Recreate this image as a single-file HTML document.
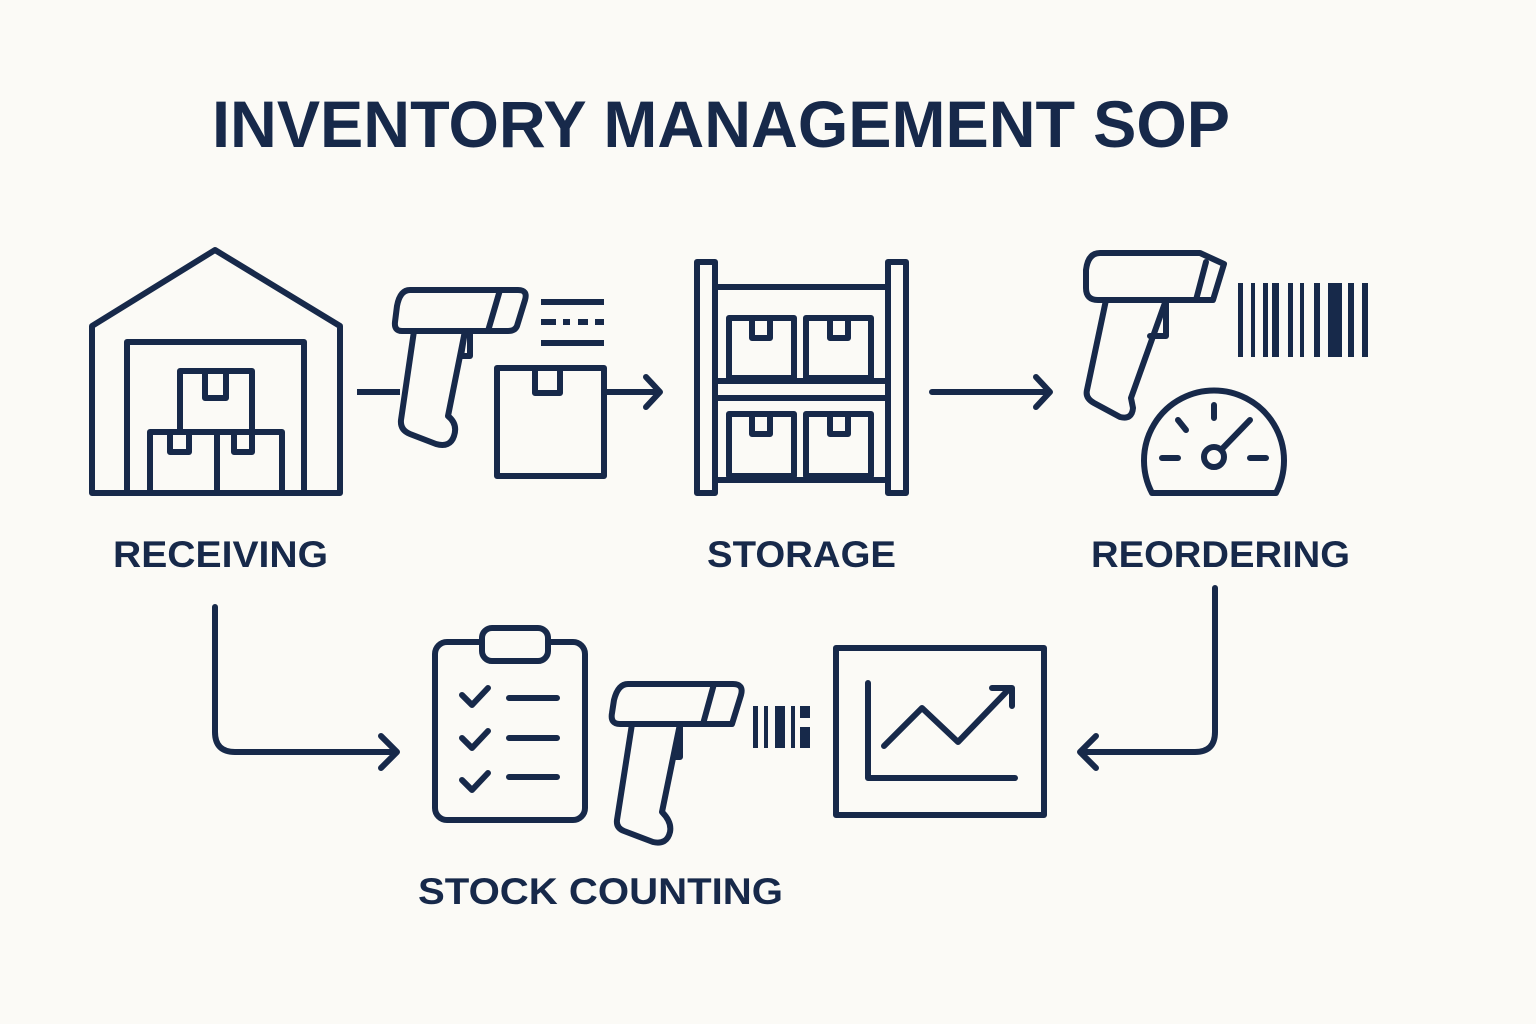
<!DOCTYPE html>
<html><head><meta charset="utf-8"><style>
html,body{margin:0;padding:0;background:#fbfaf6;}
svg{display:block}
text{font-family:"Liberation Sans",sans-serif;font-weight:bold;fill:#17294a}
</style></head><body>
<svg width="1536" height="1024" viewBox="0 0 1536 1024">
<rect width="1536" height="1024" fill="#fbfaf6"/>
<text x="212" y="147" font-size="66" textLength="1018" lengthAdjust="spacingAndGlyphs">INVENTORY MANAGEMENT SOP</text>
<g fill="none" stroke="#17294a" stroke-width="6" stroke-linejoin="round" stroke-linecap="round">
<!-- warehouse -->
<path d="M92 493 V326 L215 250 L340 326 V493 Z"/>
<path d="M127 493 V342 H304 V493"/>
<rect x="180" y="371" width="72" height="61"/>
<path d="M205 371 V398 H226 V371"/>
<rect x="150" y="432" width="67" height="61"/>
<rect x="217" y="432" width="65" height="61"/>
<path d="M170 432 V452 H189 V432 M234 432 V452 H252 V432"/>
<path d="M357 392 H400" stroke-linecap="butt"/>
<!-- scanner 1 -->
<path d="M410 290 H518 Q528 290 525 300 L517 326 Q515 331 508 331 H402 Q394 331 395 322 L397 306 Q400 290 410 290 Z"/>
<path d="M500 290 L488 331"/>
<path d="M414 331 L401 420 Q400 430 410 434 L436 444 Q450 448 454 436 Q458 424 448 416 L465 331"/>
<path d="M465 331 L461 356 H470 V331"/>
<path d="M541 302 H604 M541 343 H604 M541 322 H556 M563 322 H570 M578 322 H588 M595 322 H604" stroke-linecap="butt"/>
<rect x="497" y="368" width="107" height="108"/>
<path d="M535 368 V393 H560 V368"/>
<path d="M604 392 H658 M646 377 L660 392 L646 407"/>
<!-- shelving -->
<rect x="697" y="262" width="18" height="231"/>
<rect x="888" y="262" width="18" height="231"/>
<path d="M715 287 H888 M715 381 H888 M715 398 H888 M715 480 H888"/>
<rect x="729" y="318" width="65" height="60"/>
<rect x="806" y="318" width="65" height="60"/>
<rect x="729" y="414" width="65" height="62"/>
<rect x="806" y="414" width="65" height="62"/>
<path d="M752 318 V338 H770 V318 M830 318 V338 H848 V318 M752 414 V434 H770 V414 M830 414 V434 H848 V414"/>
<path d="M932 392 H1048 M1036 377 L1050 392 L1036 407"/>
<!-- scanner 2 -->
<path d="M1100 253 H1200 L1224 264 L1213 300 H1098 Q1086 300 1086 288 V270 Q1088 253 1100 253 Z"/>
<path d="M1206 262 L1196 300"/>
<path d="M1106 300 L1087 390 Q1085 398 1094 403 L1120 417 Q1132 420 1133 408 L1131 398 L1166 300"/>
<path d="M1166 300 V336 H1150"/>
<path d="M1152 493 A70 70 0 1 1 1276 493 Z"/>
<circle cx="1214" cy="457" r="10"/>
<path d="M1221 450 L1250 420 M1214 405 V418 M1178 420 L1186 430 M1162 458 H1178 M1250 458 H1266"/>
<!-- clipboard -->
<rect x="435" y="642" width="150" height="178" rx="12"/>
<rect x="482" y="628" width="66" height="33" rx="10" fill="#fbfaf6"/>
<path d="M462 695 L472 705 L488 688 M462 738 L472 748 L488 731 M462 780 L472 790 L488 773"/>
<path d="M509 698 H557 M509 738 H557 M509 777 H557"/>
<!-- scanner 3 -->
<path d="M628 684 H733 Q744 684 741 695 L732 724 H620 Q610 724 612 713 L614 700 Q618 684 628 684 Z"/>
<path d="M714 684 L703 724"/>
<path d="M632 724 L617 820 Q616 828 624 831 L653 842 Q667 845 670 832 Q672 822 662 812 L680 724"/>
<path d="M680 724 V757 H675"/>
<path d="M836 648 H1044 V815 H836 Z"/>
<path d="M868 683 V778 H1015"/>
<path d="M884 746 L922 708 L958 742 L1010 688 M992 688 H1012 V706"/>
<!-- connectors -->
<path d="M215 607 V732 Q215 752 235 752 H395 M381 736 L397 752 L381 768"/>
<path d="M1215 588 V732 Q1215 752 1195 752 H1082 M1096 736 L1080 752 L1096 768"/>
</g>
<g fill="#17294a">
<rect x="1238" y="283" width="5" height="74"/><rect x="1251" y="283" width="4" height="74"/>
<rect x="1263" y="283" width="5" height="74"/><rect x="1272" y="283" width="7" height="74"/>
<rect x="1288" y="283" width="5" height="74"/><rect x="1300" y="283" width="4" height="74"/>
<rect x="1314" y="283" width="6" height="74"/><rect x="1328" y="283" width="14" height="74"/>
<rect x="1348" y="283" width="6" height="74"/><rect x="1362" y="283" width="6" height="74"/>
<rect x="753" y="706" width="5" height="42"/><rect x="764" y="706" width="4" height="42"/>
<rect x="775" y="706" width="10" height="42"/><rect x="791" y="706" width="4" height="42"/>
<rect x="800" y="706" width="10" height="12"/><rect x="800" y="727" width="10" height="21"/>
</g>
<text x="113" y="567" font-size="37" textLength="215" lengthAdjust="spacingAndGlyphs">RECEIVING</text>
<text x="707" y="567" font-size="37" textLength="189" lengthAdjust="spacingAndGlyphs">STORAGE</text>
<text x="1091" y="567" font-size="37" textLength="259" lengthAdjust="spacingAndGlyphs">REORDERING</text>
<text x="418" y="904" font-size="37" textLength="365" lengthAdjust="spacingAndGlyphs">STOCK COUNTING</text>
</svg>
</body></html>
